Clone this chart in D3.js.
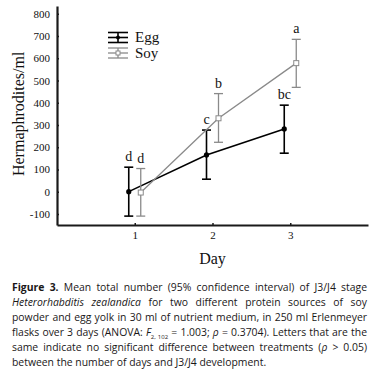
<!DOCTYPE html>
<html>
<head>
<meta charset="utf-8">
<script src="https://cdn.jsdelivr.net/npm/d3@7"></script>
<style>
  body { margin: 0; background: #fff; }
  svg { display: block; }
</style>
</head>
<body>
<div id="chart"></div>
<script>
// data
const days = [1, 2, 3];
const seriesNames = ["Egg", "Soy"];
const eggMean = [0, 165, 282];
const eggLower = [-110, 56, 173];
const eggUpper = [110, 277, 389];
const soyMean = [-4, 330, 578];
const soyLower = [-110, 222, 469];
const soyUpper = [104, 441, 685];
const eggLetters = ["d", "c", "bc"];
const soyLetters = ["d", "b", "a"];
const yTicks = [-100, 0, 100, 200, 300, 400, 500, 600, 700, 800];

const W = 389, H = 376;
const serif = "'Liberation Serif', 'DejaVu Serif', serif";

const svg = d3.select("#chart")
  .append("svg")
  .attr("width", W)
  .attr("height", H);

const x = d3.scaleLinear().domain([0, 4]).range([57, 368]);
const y = d3.scaleLinear().domain([-150, 835]).range([225, 6]);

// axes
const yAxis = svg.append("g")
  .attr("transform", `translate(${x(0)},0)`)
  .call(d3.axisLeft(y).tickValues(yTicks).tickFormat(d => String(d))
    .tickSize(-2).tickPadding(7).tickSizeOuter(0));
const xAxis = svg.append("g")
  .attr("transform", `translate(0,${y(-150)})`)
  .call(d3.axisBottom(x).tickValues(days).tickFormat(d => String(d))
    .tickSize(-2).tickPadding(6).tickSizeOuter(0));

[yAxis, xAxis].forEach(g => {
  g.select(".domain").attr("stroke", "#1a1a1a").attr("stroke-width", 2.2);
  g.selectAll(".tick line").attr("stroke", "#1a1a1a").attr("stroke-width", 1.5);
  g.selectAll(".tick text")
    .attr("fill", "#111")
    .style("font-family", serif)
    .style("font-size", "11px");
});

// axis titles
svg.append("text")
  .attr("transform", `translate(24,${y(350)}) rotate(-90)`)
  .attr("text-anchor", "middle")
  .style("font-family", serif)
  .style("font-size", "16px")
  .attr("fill", "#111")
  .text("Hermaphrodites/ml");

svg.append("text")
  .attr("x", x(2))
  .attr("y", 264)
  .attr("text-anchor", "middle")
  .style("font-family", serif)
  .style("font-size", "16px")
  .attr("fill", "#111")
  .text("Day");

const series = [
  { name: seriesNames[0], mean: eggMean, lo: eggLower, hi: eggUpper, letters: eggLetters, color: "#000", dx: -6, width: 1.6 },
  { name: seriesNames[1], mean: soyMean, lo: soyLower, hi: soyUpper, letters: soyLetters, color: "#8a8a8a", dx: 6, width: 1.3 }
];

const cap = 4.5;

series.forEach(s => {
  const pts = days.map((d, i) => ({ x: x(d) + s.dx, m: s.mean[i], lo: s.lo[i], hi: s.hi[i], l: s.letters[i] }));
  const g = svg.append("g");

  g.append("path")
    .datum(pts)
    .attr("fill", "none")
    .attr("stroke", s.color)
    .attr("stroke-width", s.width)
    .attr("d", d3.line().x(d => d.x).y(d => y(d.m)));

  // error bars
  const eb = g.selectAll(".eb").data(pts).join("g");
  eb.append("line")
    .attr("x1", d => d.x).attr("x2", d => d.x)
    .attr("y1", d => y(d.lo)).attr("y2", d => y(d.hi))
    .attr("stroke", s.color).attr("stroke-width", s.width);
  eb.append("line")
    .attr("x1", d => d.x - cap).attr("x2", d => d.x + cap)
    .attr("y1", d => y(d.hi)).attr("y2", d => y(d.hi))
    .attr("stroke", s.color).attr("stroke-width", s.width);
  eb.append("line")
    .attr("x1", d => d.x - cap).attr("x2", d => d.x + cap)
    .attr("y1", d => y(d.lo)).attr("y2", d => y(d.lo))
    .attr("stroke", s.color).attr("stroke-width", s.width);

  // markers
  if (s.name === "Egg") {
    g.selectAll("circle").data(pts).join("circle")
      .attr("cx", d => d.x).attr("cy", d => y(d.m)).attr("r", 2.6)
      .attr("fill", "#000");
  } else {
    g.selectAll("rect").data(pts).join("rect")
      .attr("x", d => d.x - 2.5).attr("y", d => y(d.m) - 2.5)
      .attr("width", 5).attr("height", 5)
      .attr("fill", "#fff").attr("stroke", s.color).attr("stroke-width", 1);
  }

  // significance letters
  g.selectAll(".letter").data(pts).join("text")
    .attr("x", d => d.x)
    .attr("y", d => y(d.hi) - 6)
    .attr("text-anchor", "middle")
    .style("font-family", serif)
    .style("font-size", "14px")
    .attr("fill", "#111")
    .text(d => d.l);
});

// legend
const legend = svg.append("g");
series.forEach((s, i) => {
  const cy = 37.5 + i * 15.5;
  const lg = legend.append("g");
  [-5, 0, 5].forEach(o => {
    lg.append("line")
      .attr("x1", 108).attr("x2", 128)
      .attr("y1", cy + o).attr("y2", cy + o)
      .attr("stroke", s.color).attr("stroke-width", s.width);
  });
  lg.append("line")
    .attr("x1", 118).attr("x2", 118)
    .attr("y1", cy - 5).attr("y2", cy + 5)
    .attr("stroke", s.color).attr("stroke-width", s.width);
  if (s.name === "Egg") {
    lg.append("circle").attr("cx", 118).attr("cy", cy).attr("r", 2).attr("fill", "#000");
  } else {
    lg.append("rect").attr("x", 116).attr("y", cy - 2).attr("width", 4).attr("height", 4)
      .attr("fill", "#fff").attr("stroke", s.color);
  }
  lg.append("text")
    .attr("x", 135).attr("y", cy + 4.5)
    .style("font-family", serif)
    .style("font-size", "15px")
    .attr("fill", "#111")
    .text(s.name);
});

// caption
const capLines = [
  [["Figure 3.", "b"], [" Mean total number (95% confidence interval) of J3/J4 stage", "n"]],
  [["Heterorhabditis zealandica", "i"], [" for two different protein sources of soy", "n"]],
  [["powder and egg yolk in 30 ml of nutrient medium, in 250 ml Erlenmeyer", "n"]],
  [["flasks over 3 days (ANOVA: ", "n"], ["F", "i"], ["2, 102", "sub"], [" = 1.003; ", "n"], ["ρ", "i"], [" = 0.3704). Letters that are the", "n"]],
  [["same indicate no significant difference between treatments (", "n"], ["ρ", "i"], [" > 0.05)", "n"]],
  [["between the number of days and J3/J4 development.", "n"]]
];
const capX = 12, capRight = 367;
capLines.forEach((line, i) => {
  const t = svg.append("text")
    .attr("x", capX)
    .attr("y", 290.7 + i * 15)
    .style("font-family", "'Open Sans', 'Noto Sans', sans-serif")
    .style("font-size", "10.4px")
    .attr("fill", "#1a1718");
  line.forEach(([str, st], k) => {
    const ts = t.append("tspan").text(str);
    if (st === "b") ts.style("font-weight", "bold");
    if (st === "i") ts.style("font-style", "italic");
    if (st === "sub") ts.style("font-size", "6px").attr("dy", 3);
    if (k > 0 && line[k - 1][1] === "sub") ts.attr("dy", -3);
  });
  if (i < capLines.length - 1) {
    const natural = t.node().getComputedTextLength();
    const spaces = line.map(p => p[0]).join("").split(" ").length - 1;
    t.style("word-spacing", ((capRight - capX - natural) / spaces) + "px");
  }
});
</script>
</body>
</html>
